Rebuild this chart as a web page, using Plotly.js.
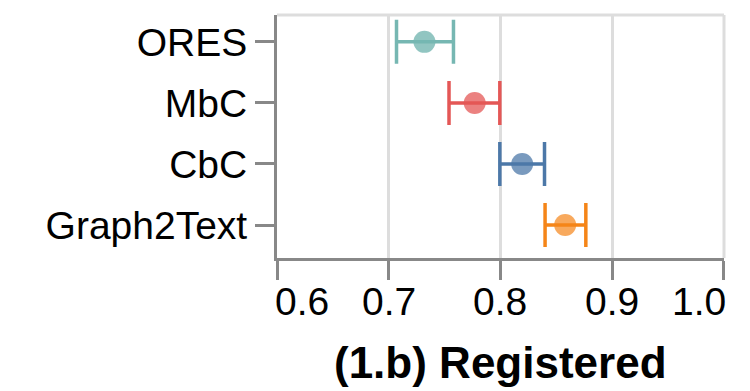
<!DOCTYPE html>
<html>
<head>
<meta charset="utf-8">
<script src="https://cdn.plot.ly/plotly-3.0.1.min.js"></script>
<style>html,body{margin:0;padding:0;background:#fff;}#chart{width:750px;height:391px;}</style>
</head>
<body>
<div id="chart"></div>
<script>
const categories = ["ORES", "MbC", "CbC", "Graph2Text"];
const means = [0.732, 0.777, 0.8195, 0.858];
const lower = [0.707, 0.754, 0.7995, 0.840];
const upper = [0.758, 0.7995, 0.8395, 0.8765];
const lineColors = ["#76b7b2", "#e45756", "#4c78a8", "#f58518"];
const markerColors = ["rgba(118,183,178,0.8)", "rgba(228,87,86,0.75)", "rgba(76,120,168,0.75)", "rgba(245,133,24,0.7)"];
const xTicks = [0.6, 0.7, 0.8, 0.9, 1.0];
const xTickText = ["0.6", "0.7", "0.8", "0.9", "1.0"];
const xTitle = "(1.b) Registered";

const traces = categories.map((c, i) => ({
  type: "scatter",
  mode: "markers",
  x: [means[i]],
  y: [c],
  marker: {size: 22, color: markerColors[i], line: {width: 0}},
  error_x: {
    type: "data",
    symmetric: false,
    array: [upper[i] - means[i]],
    arrayminus: [means[i] - lower[i]],
    color: lineColors[i],
    thickness: 3.5,
    width: 22
  },
  showlegend: false,
  hoverinfo: "x+y"
}));

// x tick labels as annotations so the first/last can be flush with the axis ends
const last = xTicks.length - 1;
const xLabels = xTicks.map((v, i) => ({
  x: v, xref: "x", y: 0, yref: "paper",
  text: xTickText[i], showarrow: false,
  xanchor: i === 0 ? "left" : (i === last ? "right" : "center"), yanchor: "top",
  yshift: -20, xshift: i === 0 ? -4 : (i === last ? 4 : 0),
  font: {size: 39, color: "#000"}
}));
const titleAnn = {
  x: 0.5, xref: "paper", y: 0, yref: "paper",
  text: xTitle, showarrow: false, xanchor: "center", yanchor: "top",
  yshift: -78,
  font: {size: 44, weight: "bold", color: "#000"}
};

const layout = {
  width: 750,
  height: 391,
  margin: {l: 277, r: 26, t: 15, b: 133},
  paper_bgcolor: "#fff",
  plot_bgcolor: "#fff",
  font: {family: "Liberation Sans, Arial, sans-serif", color: "#000", size: 39},
  xaxis: {
    range: [0.6, 1.0002],
    tickvals: xTicks,
    ticktext: xTicks.map(() => ""),
    showgrid: true,
    gridcolor: "#dddddd",
    gridwidth: 3,
    zeroline: false,
    showline: true,
    linecolor: "#888888",
    linewidth: 3,
    ticks: "outside",
    ticklen: 19,
    tickwidth: 3,
    tickcolor: "#888888",
    tickfont: {size: 39, color: "#000"},
    fixedrange: true
  },
  yaxis: {
    type: "category",
    categoryorder: "array",
    categoryarray: categories,
    range: [3.54, -0.44],
    showgrid: false,
    zeroline: false,
    showline: true,
    linecolor: "#888888",
    linewidth: 3,
    ticks: "outside",
    ticklen: 19,
    tickwidth: 3,
    tickcolor: "#888888",
    tickfont: {size: 39, color: "#000"},
    fixedrange: true
  },
  annotations: xLabels.concat([titleAnn]),
  shapes: [
    {type: "line", xref: "paper", yref: "paper", x0: 0, x1: 1, y0: 1, y1: 1, line: {color: "#dddddd", width: 3}},
    {type: "line", xref: "paper", yref: "paper", x0: 1, x1: 1, y0: 0, y1: 1, line: {color: "#dddddd", width: 3}}
  ]
};

Plotly.newPlot("chart", traces, layout, {displayModeBar: false, staticPlot: true});
</script>
</body>
</html>
